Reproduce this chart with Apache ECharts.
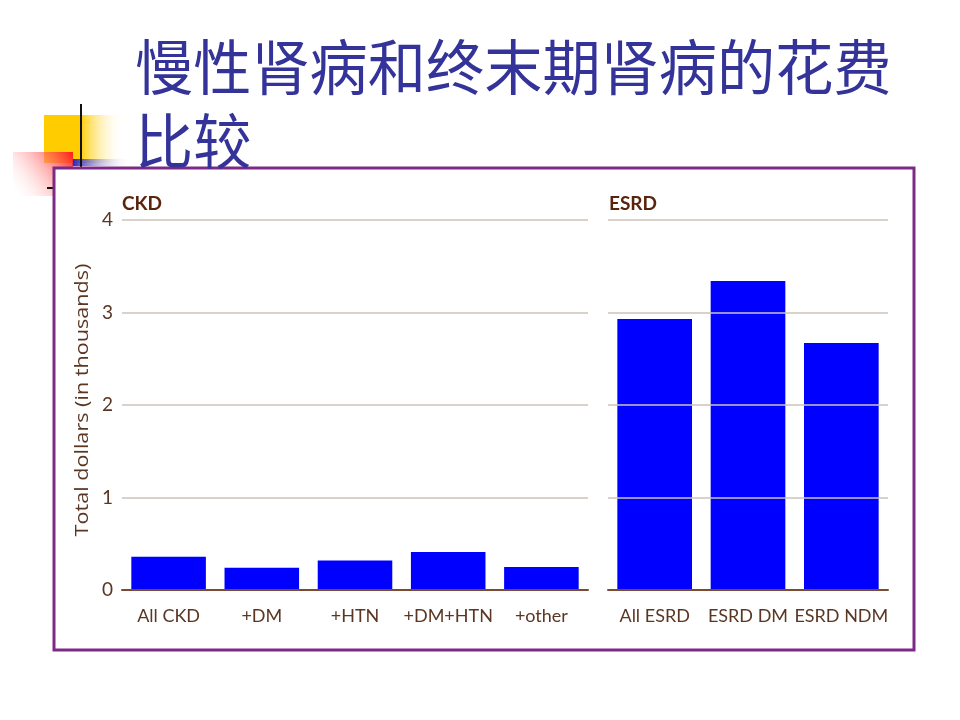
<!DOCTYPE html>
<html><head><meta charset="utf-8">
<script src="https://cdn.jsdelivr.net/npm/echarts@6/dist/echarts.min.js"></script>
<style>html,body{margin:0;padding:0;background:#fff}#c{width:960px;height:720px}</style>
</head><body><div id="c"></div>
<script>
var titleLines = ['慢性肾病和终末期肾病的花费', '比较'];
var ckdCategories = ['All CKD', '+DM', '+HTN', '+DM+HTN', '+other'];
var ckdValues = [0.36, 0.24, 0.32, 0.41, 0.25];
var esrdCategories = ['All ESRD', 'ESRD DM', 'ESRD NDM'];
var esrdValues = [2.93, 3.34, 2.67];
var panelLabels = ['CKD', 'ESRD'];
var yAxisName = 'Total dollars (in thousands)';

var brown = '#5b3623';
var condensed = '"Liberation Sans Narrow", Lato, sans-serif';
var chart = echarts.init(document.getElementById('c'));

function yAxis(idx, showLabels) {
  return {
    type: 'value', gridIndex: idx, min: 0, max: 4, interval: 1, z: 20,
    axisLine: { show: false }, axisTick: { show: false },
    axisLabel: { show: showLabels, color: brown, fontSize: 19, fontFamily: 'Lato, sans-serif', margin: 9 },
    splitLine: { lineStyle: { color: '#cbc3ba', width: 1.5 } }
  };
}
function xAxis(idx, cats) {
  return {
    type: 'category', gridIndex: idx, data: cats, z: 20,
    axisLine: { lineStyle: { color: '#7a4b33', width: 2 } },
    axisTick: { show: false },
    axisLabel: { interval: 0, color: brown, fontSize: 18, fontFamily: condensed, margin: 17 }
  };
}

chart.setOption({
  animation: false,
  backgroundColor: '#fff',
  graphic: [
    { type: 'rect', shape: { x: 44, y: 115, width: 80, height: 48 }, z: -5,
      style: { fill: new echarts.graphic.LinearGradient(0, 0, 1, 0, [
        { offset: 0, color: '#ffcc00' }, { offset: 0.45, color: '#ffcc00' }, { offset: 1, color: 'rgba(255,255,255,0)' }]) } },
    { type: 'rect', shape: { x: 72, y: 159, width: 60, height: 7 }, z: -4,
      style: { fill: new echarts.graphic.LinearGradient(0, 0, 1, 0, [
        { offset: 0, color: '#2020c0' }, { offset: 1, color: 'rgba(255,255,255,0)' }]) } },
    { type: 'rect', shape: { x: 13, y: 152, width: 60, height: 44 }, z: -3,
      style: { fill: new echarts.graphic.LinearGradient(1, 0, 0, 1, [
        { offset: 0, color: '#ff1a1a' }, { offset: 1, color: 'rgba(255,255,255,0)' }]) } },
    { type: 'line', shape: { x1: 81, y1: 104, x2: 81, y2: 168 }, z: -2, style: { stroke: '#111', lineWidth: 2 } },
    { type: 'line', shape: { x1: 47, y1: 188, x2: 54, y2: 188 }, z: -2, style: { stroke: '#111', lineWidth: 2 } },
    { type: 'rect', shape: { x: 54, y: 168, width: 860, height: 482 }, z: -1,
      style: { fill: '#fff', stroke: '#7d2a86', lineWidth: 3 } },
    { type: 'text', x: 135, y: 30, z: 6, scaleX: 0.97, style: {
      text: titleLines.join('\n'), fill: '#333399', fontSize: 60, lineHeight: 74,
      fontFamily: '"Noto Sans CJK SC", sans-serif' } },
    { type: 'text', x: 122, y: 194, z: 6, style: { text: panelLabels[0], fill: '#5a240c', fontSize: 19, fontWeight: 'bold', fontFamily: condensed } },
    { type: 'text', x: 609, y: 194, z: 6, style: { text: panelLabels[1], fill: '#5a240c', fontSize: 19, fontWeight: 'bold', fontFamily: condensed } },
    { type: 'text', x: 83, y: 400, rotation: Math.PI / 2, scaleX: 1.2, z: 6, style: {
      text: yAxisName, fill: brown, fontSize: 18, fontFamily: '"Open Sans", sans-serif',
      align: 'center', verticalAlign: 'middle' } }
  ],
  grid: [
    { left: 122, right: 372, top: 220, bottom: 130 },
    { left: 608, right: 72, top: 220, bottom: 130 }
  ],
  xAxis: [xAxis(0, ckdCategories), xAxis(1, esrdCategories)],
  yAxis: [yAxis(0, true), yAxis(1, false)],
  series: [
    { type: 'bar', xAxisIndex: 0, yAxisIndex: 0, data: ckdValues, barWidth: '80%', z: 10,
      itemStyle: { color: '#0000ff' } },
    { type: 'bar', xAxisIndex: 1, yAxisIndex: 1, data: esrdValues, barWidth: '80%', z: 10,
      itemStyle: { color: '#0000ff' } }
  ]
});
</script></body></html>
